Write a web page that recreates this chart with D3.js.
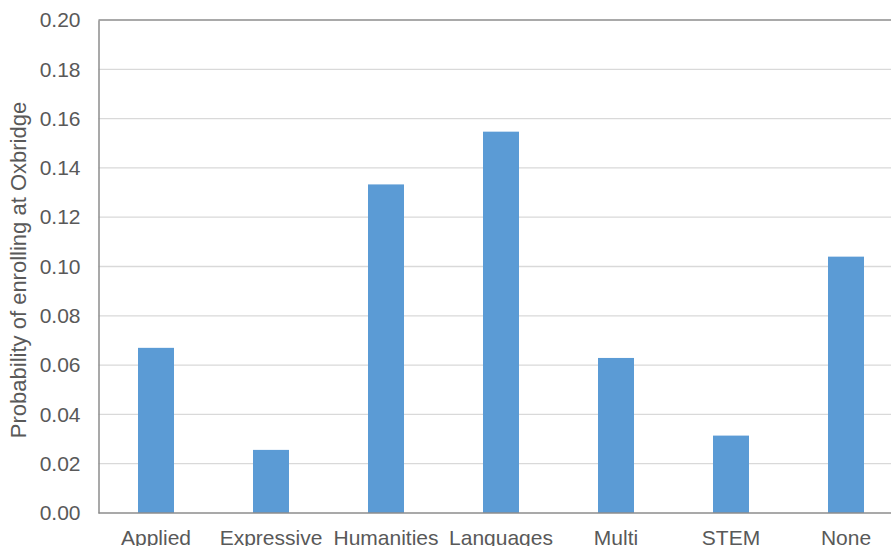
<!DOCTYPE html>
<html>
<head>
<meta charset="utf-8">
<script src="https://cdn.jsdelivr.net/npm/d3@7"></script>
<style>
  html, body { margin: 0; padding: 0; background: #fff; overflow: hidden; }
  svg { display: block; font-family: "Liberation Sans", Arial, sans-serif; }
</style>
</head>
<body>
<svg id="chart" width="891" height="546"></svg>
<script>
// Subject groups and the probability of enrolling at Oxbridge for each
const categories = ["Applied", "Expressive", "Humanities", "Languages", "Multi", "STEM", "None"];
const probabilities = [0.067, 0.0256, 0.1333, 0.1547, 0.0629, 0.0314, 0.104];
const yTicks = [0, 0.02, 0.04, 0.06, 0.08, 0.10, 0.12, 0.14, 0.16, 0.18, 0.20];
const yTitle = "Probability of enrolling at Oxbridge";

const svg = d3.select("#chart");
const plotLeft = 98.5, plotRight = 903.5, plotTop = 20, plotBottom = 513;
const labelFont = "Liberation Sans, Arial, sans-serif";

const x = d3.scaleBand().domain(categories).range([plotLeft, plotRight]).paddingInner(0.687).paddingOuter(0.3435);
const y = d3.scaleLinear().domain([0, 0.2]).range([plotBottom, plotTop]);

// Horizontal gridlines
svg.append("g")
  .selectAll("line")
  .data(yTicks.filter(t => t > 0 && t < 0.2))
  .join("line")
  .attr("x1", plotLeft).attr("x2", plotRight)
  .attr("y1", d => y(d)).attr("y2", d => y(d))
  .attr("stroke", "#d9d9d9").attr("stroke-width", 1.3);

// Bars
svg.append("g")
  .selectAll("rect")
  .data(categories.map((c, i) => ({ c, v: probabilities[i] })))
  .join("rect")
  .attr("x", d => x(d.c))
  .attr("width", x.bandwidth())
  .attr("y", d => y(d.v))
  .attr("height", d => y(0) - y(d.v))
  .attr("fill", "#5b9bd5");

// Top border of the plot frame
svg.append("line").attr("x1", plotLeft).attr("x2", plotRight).attr("y1", plotTop).attr("y2", plotTop)
  .attr("stroke", "#8c8c8c").attr("stroke-width", 1.5);

// Y axis with tick labels
const yAxis = d3.axisLeft(y).tickValues(yTicks).tickFormat(d3.format(".2f")).tickSize(0).tickPadding(18);
const gy = svg.append("g").attr("transform", `translate(${plotLeft},0)`).call(yAxis);
gy.attr("font-size", 21).attr("font-family", labelFont);
gy.select(".domain").attr("stroke", "#8c8c8c").attr("stroke-width", 1.5);
gy.selectAll("text").attr("fill", "#595959");

// X axis with category labels
const xAxis = d3.axisBottom(x).tickSize(0).tickPadding(17);
const gx = svg.append("g").attr("transform", `translate(0,${plotBottom})`).call(xAxis);
gx.attr("font-size", 21).attr("font-family", labelFont);
gx.select(".domain").attr("stroke", "#8c8c8c").attr("stroke-width", 1.5).attr("d", `M${plotLeft},0H${plotRight}`);
gx.selectAll("text").attr("fill", "#595959");

// Y axis title
svg.append("text")
  .attr("transform", `translate(26,270) rotate(-90)`)
  .attr("text-anchor", "middle")
  .attr("fill", "#595959")
  .attr("font-family", labelFont)
  .attr("font-size", 22)
  .text(yTitle);
</script>
</body>
</html>
